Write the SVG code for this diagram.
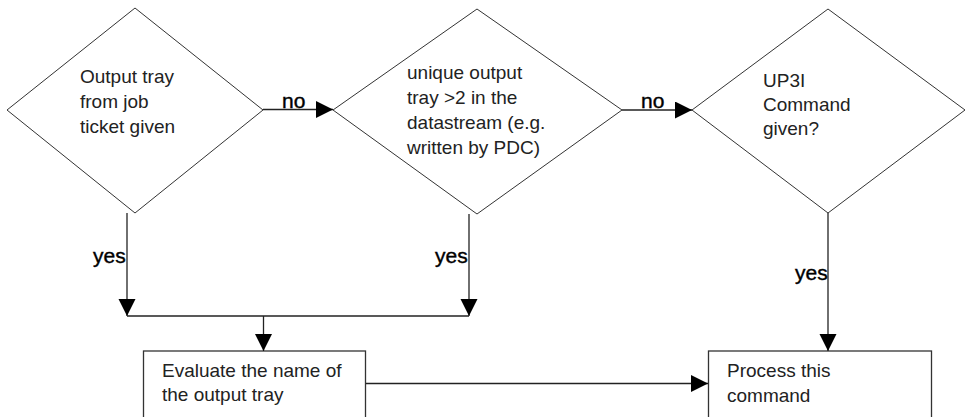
<svg xmlns="http://www.w3.org/2000/svg" width="967" height="417" viewBox="0 0 967 417">
  <style>
    .shape { fill: #ffffff; stroke: #333333; stroke-width: 1; }
    .box { fill: #ffffff; stroke: #333333; stroke-width: 1.3; }
    .txt { font-family: "Liberation Sans", Arial, sans-serif; font-size: 19px; fill: #222222; }
    .lbl { font-family: "Liberation Sans", Arial, sans-serif; font-size: 21px; fill: #000000; stroke: #000000; stroke-width: 0.4; }
    .conn { fill: none; stroke: #222222; stroke-width: 1.3; }
  </style>
  <defs>
    <marker id="arrow" markerUnits="userSpaceOnUse" markerWidth="18" markerHeight="18" refX="17" refY="8.5" orient="auto">
      <path d="M0,0 L17,8.5 L0,17 Z" fill="#000000"/>
    </marker>
  </defs>

  <rect width="967" height="417" fill="#ffffff"/>

  <!-- decisions -->
  <g id="decision-output-tray">
    <polygon class="shape" points="135,8 263,110 135,213 7,110"/>
    <text class="txt" x="80" y="83">Output tray</text>
    <text class="txt" x="80" y="108">from job</text>
    <text class="txt" x="80" y="133">ticket given</text>
  </g>

  <g id="decision-unique-tray">
    <polygon class="shape" points="477,9 622,110 477,214 333,110"/>
    <text class="txt" x="407" y="78.5">unique output</text>
    <text class="txt" x="407" y="103.5">tray &gt;2 in the</text>
    <text class="txt" x="407" y="128.5">datastream (e.g.</text>
    <text class="txt" x="407" y="153.5">written by PDC)</text>
  </g>

  <g id="decision-up3i">
    <polygon class="shape" points="828,9 965,110 828,213 692,110"/>
    <text class="txt" x="763" y="87">UP3I</text>
    <text class="txt" x="763" y="111">Command</text>
    <text class="txt" x="763" y="135">given?</text>
  </g>

  <!-- processes -->
  <g id="process-evaluate">
    <rect class="box" x="143.5" y="351" width="222" height="80"/>
    <text class="txt" x="162" y="377">Evaluate the name of</text>
    <text class="txt" x="162" y="401">the output tray</text>
  </g>

  <g id="process-command">
    <rect class="box" x="708.5" y="351" width="223" height="80"/>
    <text class="txt" x="727" y="377">Process this</text>
    <text class="txt" x="727" y="402">command</text>
  </g>

  <!-- connectors -->
  <g id="connectors">
    <line class="conn" x1="263" y1="109.5" x2="333" y2="109.5" marker-end="url(#arrow)"/>
    <line class="conn" x1="622" y1="110" x2="692" y2="110" marker-end="url(#arrow)"/>
    <line class="conn" x1="127" y1="213" x2="127" y2="316" marker-end="url(#arrow)"/>
    <line class="conn" x1="469" y1="214" x2="469" y2="316" marker-end="url(#arrow)"/>
    <line class="conn" x1="127" y1="316" x2="469" y2="316"/>
    <line class="conn" x1="263.5" y1="316" x2="263.5" y2="351" marker-end="url(#arrow)"/>
    <line class="conn" x1="828" y1="213" x2="828" y2="351" marker-end="url(#arrow)"/>
    <line class="conn" x1="366" y1="383.5" x2="708" y2="383.5" marker-end="url(#arrow)"/>

    <text class="lbl" x="282" y="108">no</text>
    <text class="lbl" x="641" y="108">no</text>
    <text class="lbl" x="93" y="263">yes</text>
    <text class="lbl" x="435" y="263">yes</text>
    <text class="lbl" x="795" y="280">yes</text>
  </g>
</svg>
